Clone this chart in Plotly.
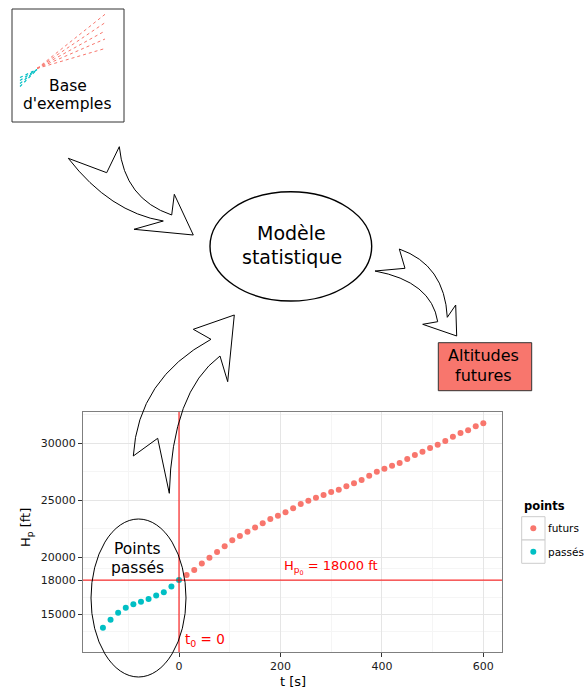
import plotly.graph_objects as go

# ---------------- data ----------------
t_past = [-150, -135, -120, -105, -90, -75, -60, -45, -30, -15, 0]
h_past = [13830, 14530, 15145, 15585, 15875, 16110, 16345, 16640, 16930, 17430, 18000]

t_future = [15 * i for i in range(1, 41)]
h_future = [18450, 18890, 19450, 19970, 20470, 20965, 21490, 21870, 22250, 22605,
            22980, 23360, 23640, 23947, 24298, 24678, 24971, 25234, 25468, 25730,
            25936, 26228, 26491, 26783, 27164, 27515, 27778, 28041, 28275, 28626,
            28977, 29269, 29590, 29883, 30205, 30585, 30906, 31140, 31491, 31754]

x_ticks = [0, 200, 400, 600]
y_ticks = [15000, 18000, 20000, 25000, 30000]
x_minor = [-100, 100, 300, 500]
y_minor = [13500, 16500, 19000, 22500, 27500, 32500]

t0 = 0
hp0 = 18000

series_names = ["futurs", "passés"]
series_colors = ["#F8766D", "#00BFC4"]

# ---------------- figure geometry ----------------
W, H = 584, 691
FONT = "DejaVu Sans"


def px(x):
    return x / W


def py(y):
    return 1 - y / H


def path(cmds):
    out = []
    for c in cmds:
        op = c[0]
        pts = c[1:]
        s = op + " " + " ".join(f"{px(pts[i]):.5f},{py(pts[i+1]):.5f}" for i in range(0, len(pts), 2))
        out.append(s)
    return " ".join(out) + " Z"


fig = go.Figure()
fig.add_trace(go.Scatter(x=t_future, y=h_future, mode="markers", name=series_names[0],
                         marker=dict(color=series_colors[0], size=6), showlegend=False))
fig.add_trace(go.Scatter(x=t_past, y=h_past, mode="markers", name=series_names[1],
                         marker=dict(color=series_colors[1], size=6), showlegend=False))

shapes = []
annotations = []

# reference lines
shapes.append(dict(type="line", xref="x domain", yref="y", x0=0, x1=1, y0=hp0, y1=hp0,
                   line=dict(color="red", width=1), layer="above"))
shapes.append(dict(type="line", xref="x", yref="y domain", x0=t0, x1=t0, y0=0, y1=1,
                   line=dict(color="red", width=1), layer="above"))

# "Base d'exemples" box
shapes.append(dict(type="rect", xref="paper", yref="paper", x0=px(12), x1=px(124), y0=py(122), y1=py(9),
                   line=dict(color="#333333", width=1)))
# icon: example trajectories
for ye in [14.3, 22.7, 31, 39, 48.5]:
    shapes.append(dict(type="line", xref="paper", yref="paper", x0=px(37), y0=py(68.5), x1=px(105), y1=py(ye),
                       line=dict(color="#F8766D", width=1, dash="dot")))
for ys in [77.5, 80.5, 83.5, 86.5]:
    shapes.append(dict(type="line", xref="paper", yref="paper", x0=px(20), y0=py(ys), x1=px(37), y1=py(69.5),
                       line=dict(color="#00BFC4", width=1.2, dash="dot")))

# "Altitudes futures" box
shapes.append(dict(type="rect", xref="paper", yref="paper", x0=px(438.3), x1=px(531.7), y0=py(390.7), y1=py(342.7),
                   line=dict(color="#333333", width=1), fillcolor="#F8766D"))

# ellipses
shapes.append(dict(type="circle", xref="paper", yref="paper", x0=px(210), x1=px(371.7), y0=py(301), y1=py(191.7),
                   line=dict(color="black", width=1.4)))
shapes.append(dict(type="circle", xref="paper", yref="paper", x0=px(91), x1=px(186), y0=py(677), y1=py(519),
                   line=dict(color="black", width=1), layer="above"))

# arrows
arrow1 = [("M", 68.3, 158.3), ("L", 106.7, 172.7), ("L", 119.3, 146.7), ("Q", 124.5, 199, 171.7, 215),
          ("L", 174.3, 194.3), ("L", 193.3, 235), ("L", 134, 229.3), ("L", 163.3, 221),
          ("Q", 110.2, 212.4, 68.3, 158.3)]
arrow2 = [("M", 375, 271), ("L", 405, 268.3), ("L", 399.3, 249), ("Q", 444.7, 264.9, 447.3, 317.3),
          ("L", 455.7, 305), ("L", 456.7, 336), ("L", 422.7, 324.3), ("L", 437.7, 321.7),
          ("Q", 431.5, 281.5, 375, 271)]
arrow3 = [("M", 234.3, 315), ("L", 193.3, 329.3), ("L", 211, 339.3), ("Q", 137.9, 379, 133.3, 456),
          ("L", 157.7, 438.3), ("L", 169.3, 493.3), ("Q", 172, 392, 220, 356), ("L", 227.7, 381.7)]
for a in (arrow1, arrow2, arrow3):
    shapes.append(dict(type="path", xref="paper", yref="paper", path=path(a),
                       line=dict(color="black", width=1), layer="above"))

# legend (drawn manually, ggplot style)
key_tops = [516.7, 540]
for i, top in enumerate(key_tops):
    shapes.append(dict(type="rect", xref="paper", yref="paper", x0=px(521.7), x1=px(545), y0=py(top + 23.3), y1=py(top),
                       line=dict(color="#cccccc", width=1), fillcolor="white"))
    cy = top + 11.65
    shapes.append(dict(type="circle", xref="paper", yref="paper", x0=px(530.3), x1=px(536.3), y0=py(cy + 3), y1=py(cy - 3),
                       line=dict(width=0), fillcolor=series_colors[i]))
    annotations.append(dict(text=series_names[i], xref="paper", yref="paper", x=px(546.5), y=py(cy),
                            xanchor="left", yanchor="middle", showarrow=False, borderpad=0,
                            font=dict(family=FONT, size=10.5, color="black")))
annotations.append(dict(text="<b>points</b>", xref="paper", yref="paper", x=px(521.5), y=py(505.7),
                        xanchor="left", yanchor="middle", showarrow=False,
                        font=dict(family=FONT, size=11.5, color="black")))


def label(text, x, y, size, color="black", angle=0):
    annotations.append(dict(text=text, xref="paper", yref="paper", x=px(x), y=py(y),
                            xanchor="center", yanchor="middle", showarrow=False, textangle=angle,
                            font=dict(family=FONT, size=size, color=color)))


label("Base", 67.5, 86, 15.5)
label("d'exemples", 67, 104, 15.5)
label("Modèle", 291.7, 233, 19)
label("statistique", 291.7, 257, 19)
label("Altitudes", 483.2, 355.5, 16)
label("futures", 483, 375.5, 16)
label("Points", 137.5, 548.5, 15.5)
label("passés", 137, 568, 15.5)
label("H<sub>p<sub>0</sub></sub> = 18000 ft", 331, 567, 13, color="red")
label("t<sub>0</sub> = 0", 205, 640, 13.5, color="red")
label("H<sub>p</sub> [ft]", 26, 528, 13, angle=-90)
label("t [s]", 293, 681, 13)

fig.update_layout(
    width=W, height=H, autosize=False,
    margin=dict(l=0, r=0, t=0, b=0, pad=0, autoexpand=False),
    paper_bgcolor="white", plot_bgcolor="white",
    showlegend=False,
    shapes=shapes, annotations=annotations,
    xaxis=dict(domain=[px(83), px(502)], range=[-189.3, 636.8], tickvals=x_ticks, tickformat="d",
               ticks="outside", ticklen=4, tickcolor="#333333", tickwidth=1,
               tickfont=dict(family=FONT, size=11, color="#1a1a1a"),
               showline=True, linecolor="#7f7f7f", linewidth=1, mirror=True,
               showgrid=True, gridcolor="#e5e5e5", gridwidth=1, zeroline=False,
               minor=dict(tickvals=x_minor, showgrid=True, gridcolor="#f5f5f5", gridwidth=1, ticks="")),
    yaxis=dict(domain=[py(652), py(412)], range=[11693, 32746], tickvals=y_ticks, tickformat="d",
               ticks="outside", ticklen=4, tickcolor="#333333", tickwidth=1,
               tickfont=dict(family=FONT, size=11, color="#1a1a1a"),
               showline=True, linecolor="#7f7f7f", linewidth=1, mirror=True,
               showgrid=True, gridcolor="#e5e5e5", gridwidth=1, zeroline=False,
               minor=dict(tickvals=y_minor, showgrid=True, gridcolor="#f5f5f5", gridwidth=1, ticks="")),
)

fig.write_html("out.html", config={"displayModeBar": False},
               post_script="document.body.style.margin='0';document.body.style.overflow='hidden';")
